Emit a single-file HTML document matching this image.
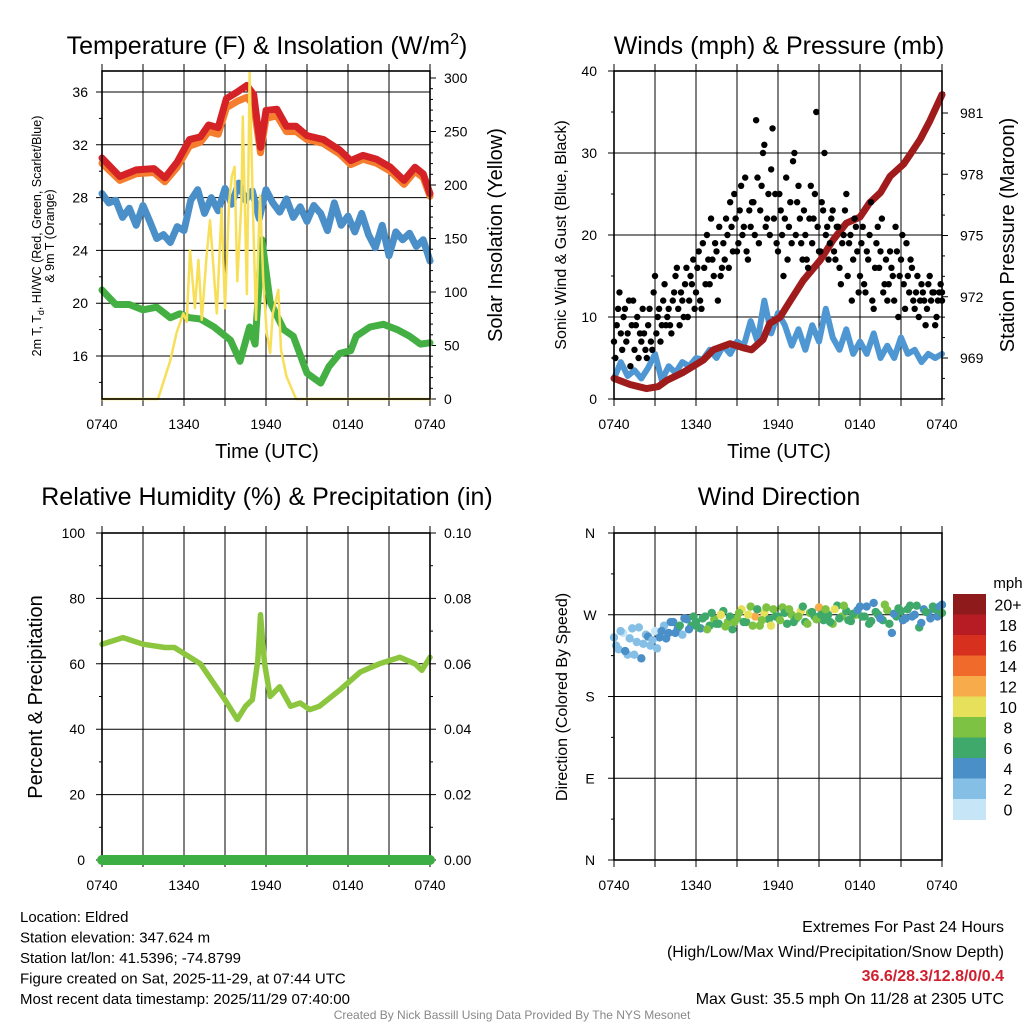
<!DOCTYPE html>
<html><head><meta charset="utf-8"><style>
html,body{margin:0;padding:0;background:#fff}
svg{display:block;font-family:"Liberation Sans",sans-serif}
</style></head><body>
<svg id="c" width="1024" height="1024" viewBox="0 0 1024 1024"></svg>
<script>
// ---- data ----
const xTickLabels=["0740","1340","1940","0140","0740"];
const tempTicks=[16,20,24,28,32,36];
const solarTicks=[0,50,100,150,200,250,300];
const windTicks=[0,10,20,30,40];
const presTicks=[969,972,975,978,981];
const rhTicks=[0,20,40,60,80,100];
const precipTicks=["0.00","0.02","0.04","0.06","0.08","0.10"];
const dirLabels=["N","E","S","W","N"];
const speedBins=["0","2","4","6","8","10","12","14","16","18","20+"];
const speedColors=["#c6e6f8","#86bfe6","#4a8fc8","#3fa96b","#7dc242","#e6e05a","#f8ab4a","#ef6a2b","#d7301f","#b71c25","#8e1a1c"];

const redT=[0,1.3,2.5,3.8,4.6,5.5,6.4,7.2,7.8,8.5,9.1,9.9,10.6,11.1,11.6,12.0,12.8,13.5,14.2,15.0,16.2,17.4,18.2,19.1,20.1,21.1,22.1,22.9,23.5,24];
const redV=[31,29.6,30.1,30.2,29.5,30.7,32.4,32.6,33.5,33.3,35.5,36.0,36.5,35.8,31.8,34.6,34.7,33.4,33.4,32.7,32.4,31.6,30.8,31.2,30.9,30.3,29.3,30.3,29.8,28.3];
const orangeV=[30.6,29.3,29.8,29.9,29.2,30.3,31.9,32.2,33.0,32.8,34.8,35.3,35.6,35.0,31.4,34.0,34.2,33.0,33.0,32.4,32.1,31.3,30.5,30.9,30.6,30.0,29.0,30.0,29.5,28.1];
const blueV=[28.3,27.6,27.8,26.5,27.2,25.9,27.4,26.2,24.9,25.2,24.6,25.8,25.5,27.8,28.6,26.8,28.0,27.0,28.7,27.5,29.1,27.8,28.5,26.4,28.6,27.6,26.9,27.9,26.5,27.3,26.2,27.4,26.8,25.5,27.6,25.9,26.6,25.4,26.8,25.2,24.2,25.9,23.6,25.4,24.8,25.3,24.3,24.8,23.2];
const greenT=[0,1,2,3,4,5,5.7,6.4,7.2,8.2,9.4,10.1,10.8,11.2,11.7,12.3,13.3,14,15,16,16.6,17.4,18.2,18.6,19.6,20.6,21.6,22.5,23.3,24];
const greenV=[21.0,19.9,19.9,19.5,19.7,18.9,19.2,18.9,18.8,18.2,17.2,15.6,18.2,16.9,24.8,20.1,18.0,17.5,14.7,13.95,15.2,16.2,16.4,17.5,18.2,18.4,18.0,17.5,16.9,17.0];
const solarT=[0,4.1,5.0,5.46,5.95,6.2,6.44,6.8,7.05,7.3,7.66,7.9,8.4,8.75,9.0,9.3,9.5,9.7,9.9,10.2,10.3,10.6,10.8,11.05,11.27,11.56,11.8,12.05,12.3,12.5,12.9,13.1,13.5,13.8,14.2,24];
const solarV=[0,0,36,62,80,72,139,85,130,74,135,167,80,178,85,184,208,217,110,184,264,98,305,175,74,190,110,62,43,80,102,46,21,12,0,0];
const windV=[2.5,4.5,2.8,3.5,2.5,3.8,5.5,2.3,4.0,3.2,4.5,4.0,5.0,4.8,6.0,5.0,6.5,5.5,7.0,6.5,9.5,7.0,12.0,8.0,10.5,9.0,6.5,8.5,6.0,9.0,7.0,11.0,7.5,6.0,8.5,5.5,7.0,5.5,8.0,5.0,6.5,5.0,7.5,5.5,6.0,4.5,5.5,5.0,5.5];
const gustV=[7,9,13,6,11,8,4,12,9,5,7, 8,5,11,6,15,10,7,12,9, 11,8,13,16,9,12,14,10,15,17, 13,18,11,16,20,14,17,19,12,15, 19,22,16,21,25,18,23,20,27,17, 21,24,34,19,26,31,22,20,33,25, 18,23,15,27,21,19,30,24,22,17, 20,16,26,22,35,18,24,30,21,19, 23,17,21,14,20,25,19,12,22,18, 15,21,13,17,24,11,19,16,22,14, 12,18,15,21,10,17,14,19,13,16, 11,15,12,13,9,14,12,13,10,13,12];
const gustV2=[5,11,8,10,7,12,9,6,10,8,11, 6,9,7,13,8,11,9,14,10, 9,12,15,11,13,10,16,12,14,11, 16,12,19,14,17,22,15,18,21,16, 17,20,24,18,22,19,26,21,18,23, 24,20,27,23,30,21,25,28,22,19, 25,20,22,17,24,29,20,26,19,23, 17,22,19,25,21,18,23,20,17,22, 18,21,16,19,23,15,20,17,21,13, 19,14,18,20,12,16,21,18,13,17, 14,16,12,18,15,20,11,15,17,12, 13,10,14,12,11,15,13,9,12,14,13];
const presT=[0,1.17,2.39,3.24,3.85,5.07,6.54,7.27,8.5,9.46,10.07,10.9,11.4,12.15,12.9,13.85,15.1,16.05,17.0,18.0,18.7,19.5,20.2,21.2,21.7,22.4,23.1,24];
const presV=[968.0,967.7,967.5,967.6,967.9,968.3,968.9,969.4,969.7,969.5,969.4,969.9,970.7,971.0,971.8,972.8,973.8,974.8,975.6,975.9,976.6,977.1,977.9,978.5,979.0,979.7,980.6,981.9];
const rhT=[0,1.54,3.0,4.6,5.3,7.2,9.0,9.9,10.5,11.0,11.4,11.6,11.9,12.3,13.0,13.8,14.5,15.2,15.9,17.4,18.9,20.3,21.8,22.9,23.4,24];
const rhV=[66,68,66,65,65,60,49,43,47,49,61,75,60,50,53,47,48,46,47,52,57.5,60,62,60,58,62];
const precipV=[0,0,0,0,0];
const dirV=[245,232,250,226,255,240,222,248,236,252, 245,258,250,262,255,248,265,258, 262,255,268,258,265,260,274,262,254, 266,276,262,279,268,258,272,265,276, 268,278,260,270,266,274,262,272,268, 278,264,270,260,280,268,274,263,270, 279,268,260,283,270,264,275,250,268, 274,266,280,270,256,276,272,279,268,281];
const dirSpd=[2,3,1,3,2,3,4,2,3,1, 4,3,4,5,4,3,5,6, 6,5,7,6,8,6,7,9,6, 8,10,7,9,12,8,10,7,9, 7,8,6,9,7,10,6,8,7, 12,7,6,8,6,9,7,6,8, 5,7,6,4,7,6,8,4,6, 6,5,7,4,6,5,4,6,5,4];
const dirV2=[236,252,230,244,226,256,238,246,242,233, 252,244,262,250,258,266,254,268, 256,266,254,272,260,270,257,268,262, 272,262,270,258,276,264,278,258,268, 264,272,276,262,268,279,260,273,265, 270,276,262,276,266,280,264,271,275, 268,279,263,273,266,281,260,271,277, 264,276,268,280,261,273,266,276,279,272];
const dirSpd2=[3,2,4,2,3,2,3,4,2,3, 4,5,4,4,6,5,4,7, 7,6,8,7,6,10,8,7,9, 9,7,11,8,6,9,8,10,7, 8,7,9,6,8,7,9,6,8, 6,9,7,10,6,8,6,7,5, 6,5,7,6,5,8,6,5,7, 5,6,4,6,5,7,5,6,4,6];

// ---- helpers ----
const NS="http://www.w3.org/2000/svg";
const svg=document.getElementById('c');
function mk(tag,attrs,parent){const e=document.createElementNS(NS,tag);for(const k in attrs)e.setAttribute(k,attrs[k]);(parent||svg).appendChild(e);return e;}
function txt(s,x,y,size,anchor,parent,extra){const t=mk('text',Object.assign({x:x,y:y,'font-size':size,'text-anchor':anchor||'middle',fill:'#000'},extra||{}),parent);t.textContent=s;return t;}
function lin(d0,d1,r0,r1){return v=>r0+(v-d0)/(d1-d0)*(r1-r0);}
function poly(xs,ys,xf,yf,color,w,parent){let d='';for(let i=0;i<xs.length;i++)d+=(i?'L':'M')+xf(xs[i]).toFixed(1)+' '+yf(ys[i]).toFixed(1);return mk('path',{d:d,fill:'none',stroke:color,'stroke-width':w,'stroke-linejoin':'round','stroke-linecap':'round'},parent);}
function evenT(n){const a=[];for(let i=0;i<n;i++)a.push(i*24/(n-1));return a;}

function panel(name,x0,x1,y0,y1){
  const g=mk('g',{});
  
  
  const xs=lin(0,24,x0,x1);
  return {g,xs,x0,x1,y0,y1};
}
function vgrid(p){
  for(let i=0;i<=8;i++){const x=p.xs(i*3);mk('line',{x1:x,x2:x,y1:p.y0-7,y2:p.y1+7,stroke:'#000','stroke-width':1},p.g);}
  for(let i=0;i<5;i++){const t=txt(xTickLabels[i],p.xs(i*6),p.y1+30,14,'middle',p.g);
    
    }
}
function frame(p){const r=mk('rect',{x:p.x0,y:p.y0,width:p.x1-p.x0,height:p.y1-p.y0,fill:'none',stroke:'#000','stroke-width':1.6},p.g);
  
  }

// ===== Panel 1: Temperature =====
{
const p=panel('temperature-panel',102,430,71,399);
const yT=lin(16,36,356,92), yS=lin(0,300,399,78);
vgrid(p);
tempTicks.forEach(v=>{const y=yT(v);mk('line',{x1:p.x0-6,x2:p.x1,y1:y,y2:y,stroke:'#000','stroke-width':1},p.g);txt(String(v),88,y+5,14,'end',p.g);});
for(let v=14;v<37;v+=4){const y=yT(v);if(y>p.y0&&y<p.y1)mk('line',{x1:p.x0-3,x2:p.x0,y1:y,y2:y,stroke:'#000'},p.g);}
solarTicks.forEach(v=>{const y=yS(v);mk('line',{x1:p.x1,x2:p.x1+6,y1:y,y2:y,stroke:'#000'},p.g);txt(String(v),444,y+5,14,'start',p.g);});
for(let v=10;v<310;v+=10){if(v%50){const y=yS(v);if(y>p.y0)mk('line',{x1:p.x1,x2:p.x1+3,y1:y,y2:y,stroke:'#000'},p.g);}}
const s1=poly(greenT,greenV,p.xs,yT,'#44b044',7,p.g);
const s2=poly(evenT(blueV.length),blueV,p.xs,yT,'#4a8fc8',7,p.g);
const s3=poly(redT,orangeV,p.xs,yT,'#f47e2e',7,p.g);
const s4=poly(redT,redV,p.xs,yT,'#d42226',7,p.g);
const s5=poly(solarT,solarV,p.xs,yS,'#f7df5a',2.5,p.g);
frame(p);
const t=mk('text',{x:267,y:54,'font-size':25,'text-anchor':'middle'},p.g);t.innerHTML='Temperature (F) &amp; Insolation (W/m<tspan dy="-10" font-size="16">2</tspan><tspan dy="10">)</tspan>';

const a=mk('text',{transform:'translate(41,236) rotate(-90)','font-size':12.5,'text-anchor':'middle'},p.g);a.innerHTML='2m T, T<tspan dy="3" font-size="9">d</tspan><tspan dy="-3">, HI/WC (Red, Green, Scarlet/Blue)</tspan>';

const a2=txt('& 9m T (Orange)',0,0,12.5,'middle',p.g,{transform:'translate(54,236) rotate(-90)'});
const r=txt('Solar Insolation (Yellow)',0,0,20,'middle',p.g,{transform:'translate(502,235) rotate(-90)'});
const xt=txt('Time (UTC)',267,458,20,'middle',p.g);
}

// ===== Panel 2: Winds =====
{
const p=panel('winds-panel',614,942,71,399);
const yW=lin(0,40,399,71), yP=lin(969,981,358,113);
vgrid(p);
windTicks.forEach(v=>{const y=yW(v);mk('line',{x1:p.x0-6,x2:p.x1,y1:y,y2:y,stroke:'#000'},p.g);txt(String(v),597,y+5,14,'end',p.g);});
for(let v=5;v<40;v+=10){const y=yW(v);mk('line',{x1:p.x0-3,x2:p.x0,y1:y,y2:y,stroke:'#000'},p.g);}
presTicks.forEach(v=>{const y=yP(v);mk('line',{x1:p.x1,x2:p.x1+6,y1:y,y2:y,stroke:'#000'},p.g);txt(String(v),960,y+5,14,'start',p.g);});
for(let v=967;v<983;v+=1){if((v-969)%3){const y=yP(v);if(y>p.y0&&y<p.y1)mk('line',{x1:p.x1,x2:p.x1+3,y1:y,y2:y,stroke:'#000'},p.g);}}
const w=poly(evenT(windV.length),windV,p.xs,yW,'#4f97d3',6,p.g);
const pr=poly(presT,presV,p.xs,yP,'#a01c1c',7,p.g);
const gt=evenT(gustV.length);
gustV.forEach((v,i)=>{const c=mk('circle',{cx:p.xs(gt[i]),cy:yW(v),r:3.2,fill:'#000'},p.g);
  
  });
gustV2.forEach((v,i)=>{const c=mk('circle',{cx:p.xs(Math.min(24,gt[i]+0.1)),cy:yW(v),r:3.2,fill:'#000'},p.g);
  
  });
frame(p);
const t=txt('Winds (mph) & Pressure (mb)',779,54,25,'middle',p.g);
const a=txt('Sonic Wind & Gust (Blue, Black)',0,0,16,'middle',p.g,{transform:'translate(566,235) rotate(-90)'});
const r=txt('Station Pressure (Maroon)',0,0,20,'middle',p.g,{transform:'translate(1014,235) rotate(-90)'});
const xt=txt('Time (UTC)',779,458,20,'middle',p.g);
}

// ===== Panel 3: RH & Precip =====
{
const p=panel('humidity-panel',102,430,533,860);
const yR=lin(0,100,860,533), yPc=lin(0,0.1,860,533);
vgrid(p);
rhTicks.forEach(v=>{const y=yR(v);mk('line',{x1:p.x0-6,x2:p.x1,y1:y,y2:y,stroke:'#000'},p.g);txt(String(v),85,y+5,14,'end',p.g);});
for(let v=10;v<100;v+=20){const y=yR(v);mk('line',{x1:p.x0-3,x2:p.x0,y1:y,y2:y,stroke:'#000'},p.g);}
precipTicks.forEach(s=>{const y=yPc(parseFloat(s));mk('line',{x1:p.x1,x2:p.x1+6,y1:y,y2:y,stroke:'#000'},p.g);txt(s,444,y+5,14,'start',p.g);});
for(let v=0.01;v<0.1;v+=0.02){const y=yPc(v);mk('line',{x1:p.x1,x2:p.x1+3,y1:y,y2:y,stroke:'#000'},p.g);}
const rh=poly(rhT,rhV,p.xs,yR,'#8cc63f',5.5,p.g);
frame(p);
const pc=poly(evenT(precipV.length),precipV,p.xs,yPc,'#3cae43',10,p.g);
const t=txt('Relative Humidity (%) & Precipitation (in)',267,505,25,'middle',p.g);
const a=txt('Percent & Precipitation',0,0,20,'middle',p.g,{transform:'translate(42,697) rotate(-90)'});
}

// ===== Panel 4: Wind direction =====
{
const p=panel('wind-direction-panel',614,942,533,860);
const yD=lin(0,360,860,533);
vgrid(p);
dirLabels.forEach((s,i)=>{const y=yD(i*90);mk('line',{x1:p.x0-6,x2:p.x1,y1:y,y2:y,stroke:'#000'},p.g);txt(s,590,y+5,14,'middle',p.g);});
for(let v=45;v<360;v+=90){const y=yD(v);mk('line',{x1:p.x0-3,x2:p.x0,y1:y,y2:y,stroke:'#000'},p.g);}
function col(s){return speedColors[Math.min(10,Math.floor(s/2))];}
const dt=evenT(dirV.length);
dirV.forEach((v,i)=>{const c=mk('circle',{cx:p.xs(dt[i]),cy:yD(v),r:4.2,fill:col(dirSpd[i])},p.g);
  
  });
dirV2.forEach((v,i)=>{const c=mk('circle',{cx:p.xs(Math.min(24,dt[i]+0.15)),cy:yD(v),r:4.2,fill:col(dirSpd2[i])},p.g);
  
  });
frame(p);
const t=txt('Wind Direction',779,505,25,'middle',p.g);
const a=txt('Direction (Colored By Speed)',0,0,16,'middle',p.g,{transform:'translate(567,697) rotate(-90)'});
const cb=mk('g',{});


const bh=20.5;
for(let i=0;i<11;i++){const k=10-i;const y=594+i*bh;
  const r=mk('rect',{x:953,y:y,width:33,height:bh+0.5,fill:speedColors[k]},cb);
  
  
  txt(speedBins[k],1008,y+bh/2+6,16,'middle',cb);}
txt('mph',1008,588,15,'middle',cb);
}

// ===== Footer =====
{
const f=mk('g',{});


const L=["Location: Eldred","Station elevation: 347.624 m","Station lat/lon: 41.5396; -74.8799","Figure created on Sat, 2025-11-29, at 07:44 UTC","Most recent data timestamp: 2025/11/29 07:40:00"];
L.forEach((s,i)=>txt(s,20,922+i*20.5,15,'start',f));
txt('Extremes For Past 24 Hours',1004,932,16,'end',f);
txt('(High/Low/Max Wind/Precipitation/Snow Depth)',1004,957,16,'end',f);
txt('36.6/28.3/12.8/0/0.4',1004,981,16,'end',f,{fill:'#d02030','font-weight':'bold'});
txt('Max Gust: 35.5 mph On 11/28 at 2305 UTC',1004,1004,16,'end',f);
txt('Created By Nick Bassill Using Data Provided By The NYS Mesonet',512,1019,12,'middle',f,{fill:'#888'});
}
</script>
</body></html>
